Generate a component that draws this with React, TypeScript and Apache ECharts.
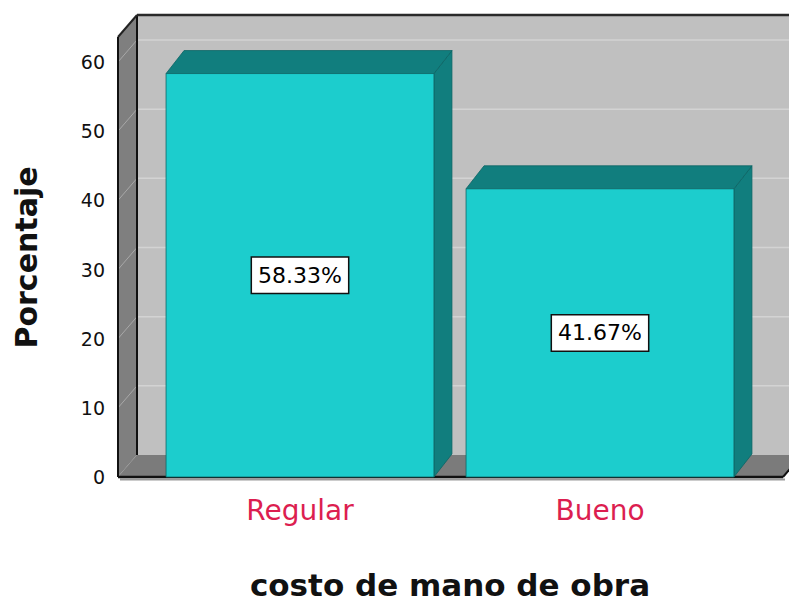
import React, { useEffect, useRef } from "react";
import * as echarts from "echarts";

const categories = ["Regular", "Bueno"];
const percentages = [58.33, 41.67];
const valueLabels = ["58.33%", "41.67%"];
const yTicks = [0, 10, 20, 30, 40, 50, 60];

const FONT = '"DejaVu Sans", "Liberation Sans", sans-serif';

export default function App() {
  const ref = useRef<HTMLDivElement>(null);
  useEffect(() => {
    if (!ref.current) return;
    const chart = echarts.init(ref.current, undefined, { renderer: "svg" });

    const wallsRender = (params: any, api: any) => {
      const cs = params.coordSys;
      const y0 = api.coord([0, 0])[1];
      const y60 = api.coord([0, 60])[1];
      const dx = 19, dy = 22;
      const L = cs.x - 32;
      const R = cs.x + cs.width + 33;
      const T = y60 - 25;
      const children: any[] = [];
      children.push({
        type: "rect",
        shape: { x: L + dx, y: T - dy, width: 1000, height: y0 - T },
        style: { fill: "#c0c0c0" },
      });
      yTicks.forEach((v) => {
        if (v === 0) return;
        const y = api.coord([0, v])[1];
        children.push({
          type: "line",
          shape: { x1: L + dx, y1: y - dy, x2: L + dx + 1000, y2: y - dy },
          style: { stroke: "#d3d3d3", lineWidth: 1.5 },
        });
      });
      children.push({
        type: "polygon",
        shape: { points: [[L, T], [L + dx, T - dy], [L + dx, y0 - dy], [L, y0]] },
        style: { fill: "#7f7f7f" },
      });
      yTicks.forEach((v) => {
        const y = api.coord([0, v])[1];
        children.push({
          type: "line",
          shape: { x1: L, y1: y, x2: L + dx, y2: y - dy },
          style: { stroke: "#a8a8a8", lineWidth: 1 },
        });
      });
      children.push({
        type: "polygon",
        shape: { points: [[L, y0], [L + dx, y0 - dy], [R + dx, y0 - dy], [R, y0]] },
        style: { fill: "#7b7b7b" },
      });
      children.push({
        type: "line",
        shape: { x1: L + 2, y1: y0 + 2.5, x2: R + 2, y2: y0 + 2.5 },
        style: { stroke: "#9a9a9a", lineWidth: 2 },
      });
      const edge = (x1: number, y1: number, x2: number, y2: number, w: number, c = "#111") =>
        children.push({ type: "line", shape: { x1, y1, x2, y2 }, style: { stroke: c, lineWidth: w } });
      edge(L + dx, T - dy, L + dx, y0 - dy, 2);
      edge(L + dx, T - dy, L + dx + 1000, T - dy, 2.5, "#2a2a2a");
      edge(L, T, L + dx, T - dy, 2, "#222");
      edge(L, T, L, y0, 2);
      edge(L, y0, R, y0, 2.5);
      edge(R, y0, R + dx, y0 - dy, 2);
      return { type: "group", children };
    };

    const barsRender = (params: any, api: any) => {
      const idx = params.dataIndex;
      const xi = api.value(0);
      const v = api.value(1);
      const [cx, yt] = api.coord([xi, v]);
      const yb = api.coord([xi, 0])[1];
      const w = api.size([1, 0])[0] * 0.893;
      const x0 = cx - w / 2;
      const x1 = cx + w / 2;
      const dx = 18, dy = 23;
      const dark = "#117e7e";
      const front = "#1ccdcd";
      const stroke = "#0d6565";
      return {
        type: "group",
        children: [
          {
            type: "polygon",
            shape: { points: [[x1, yt], [x1 + dx, yt - dy], [x1 + dx, yb - dy], [x1, yb]] },
            style: { fill: dark, stroke, lineWidth: 0.8 },
          },
          {
            type: "polygon",
            shape: { points: [[x0, yt], [x0 + dx, yt - dy], [x1 + dx, yt - dy], [x1, yt]] },
            style: { fill: dark, stroke, lineWidth: 0.8 },
          },
          {
            type: "rect",
            shape: { x: x0, y: yt, width: w, height: yb - yt },
            style: { fill: front, stroke, lineWidth: 0.8 },
          },
          {
            type: "text",
            style: {
              text: valueLabels[idx],
              x: cx,
              y: (yt + yb) / 2,
              align: "center",
              verticalAlign: "middle",
              fontSize: 22,
              fontFamily: FONT,
              fill: "#000",
              backgroundColor: "#fff",
              borderColor: "#111",
              borderWidth: 1.5,
              padding: [7, 6, 6, 6],
            },
          },
        ],
      };
    };

    chart.setOption({
      animation: false,
      backgroundColor: "#ffffff",
      grid: { left: 150, right: 39, top: 62, bottom: 127, containLabel: false },
      xAxis: {
        type: "category",
        data: categories,
        axisLine: { show: false },
        axisTick: { show: false },
        splitLine: { show: false },
        axisLabel: { fontSize: 28, color: "#dc1e50", fontFamily: FONT, margin: 19 },
        name: "costo de mano de obra",
        nameLocation: "middle",
        nameGap: 92,
        nameTextStyle: { fontSize: 31, fontWeight: "bold", color: "#111", fontFamily: FONT },
      },
      yAxis: {
        type: "value",
        min: 0,
        max: 60,
        interval: 10,
        offset: 32,
        axisLine: { show: false },
        axisTick: { show: false },
        splitLine: { show: false },
        axisLabel: { fontSize: 19, color: "#111", fontFamily: FONT, margin: 13 },
        name: "Porcentaje",
        nameLocation: "middle",
        nameRotate: 90,
        nameGap: 77,
        nameTextStyle: {
          fontSize: 30,
          fontWeight: "bold",
          color: "#111",
          fontFamily: FONT,
          padding: [0, 0, 0, 24],
        },
      },
      series: [
        {
          type: "custom",
          name: "walls",
          data: [[0, 0]],
          renderItem: wallsRender,
          silent: true,
          z: 1,
        },
        {
          type: "custom",
          name: "Porcentaje",
          data: percentages.map((v, i) => [i, v]),
          renderItem: barsRender,
          z: 2,
        },
      ],
    });
    return () => chart.dispose();
  }, []);
  return (
    <div
      ref={ref}
      style={{ position: "fixed", left: 0, top: 0, width: 789, height: 605, background: "#fff" }}
    />
  );
}
